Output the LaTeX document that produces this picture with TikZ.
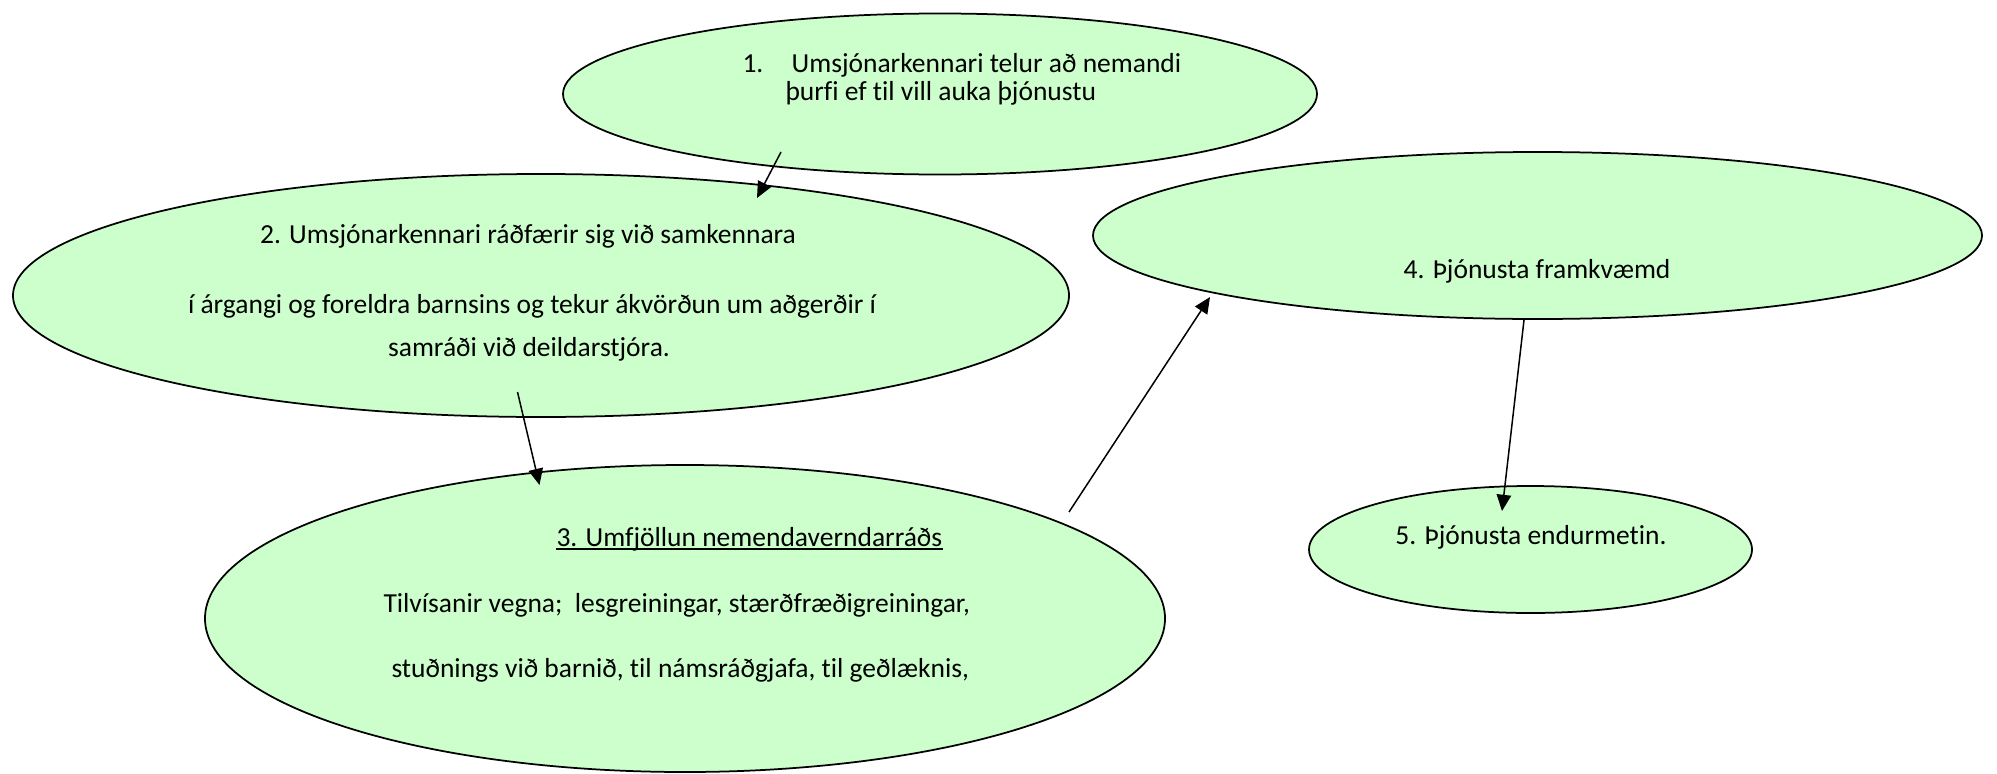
\documentclass[tikz,border=0pt]{standalone}
\usepackage{fontspec}
\setmainfont{Carlito}[Ligatures=NoCommon]
\usepackage{xcolor}
\usetikzlibrary{shapes.geometric, arrows.meta}
\definecolor{paleGreen}{RGB}{204,255,204}
\tikzstyle{bubble} = [ellipse, draw=black, line width=0.7pt, fill=paleGreen, inner sep=0pt]
\tikzstyle{txt} = [inner sep=0pt, font=\fontsize{11}{13}\selectfont]
\tikzstyle{arrow} = [line width=0.6pt, -{Triangle[length=6.5pt, width=5.8pt]}]

\begin{document}
\begin{tikzpicture}[x=0.4pt, y=-0.4pt]
    \useasboundingbox (0,0) rectangle (1997,773);
    % the five steps
    \node (step1) [bubble, minimum width=301.6pt, minimum height=64.4pt] at (940,94) {};
    \node (step2) [bubble, minimum width=422.4pt, minimum height=97.2pt] at (541,295.5) {};
    \node (step3) [bubble, minimum width=384pt, minimum height=122.8pt] at (685,618.5) {};
    \node (step4) [bubble, minimum width=355.6pt, minimum height=66.8pt] at (1537.5,235.5) {};
    \node (step5) [bubble, minimum width=177.2pt, minimum height=50.8pt] at (1530.5,549.5) {};

    % texts
    \node (t1a) [txt, anchor=base west] at (742,72) {1.\hspace{11.3pt}Umsjónarkennari telur að nemandi};
    \node (t1b) [txt, anchor=base west] at (785,100.5) {þurfi ef til vill auka þjónustu};
    \node (t2a) [txt, anchor=base] at (528,243) {2. Umsjónarkennari ráðfærir sig við samkennara};
    \node (t2b) [txt, anchor=base] at (532,313) {í árgangi og foreldra barnsins og tekur ákvörðun um aðgerðir í};
    \node (t2c) [txt, anchor=base] at (529,356) {samráði við deildarstjóra.};
    \node (t3a) [txt, anchor=base west] at (556,546) {3. Umfjöllun nemendaverndarráðs};
    \node (t3b) [txt, anchor=base west] at (383,612) {Tilvísanir vegna;~ lesgreiningar, stærðfræðigreiningar,};
    \node (t3c) [txt, anchor=base west] at (391,677) {stuðnings við barnið, til námsráðgjafa, til geðlæknis,};
    \node (t4) [txt, anchor=base] at (1537,278) {4. Þjónusta framkvæmd};
    \node (t5) [txt, anchor=base] at (1531,544) {5. Þjónusta endurmetin.};
    % underline of step 3 heading
    \draw [line width=0.8pt] ([yshift=-1.1pt]t3a.base west) -- ([yshift=-1.1pt]t3a.base east);

    % arrow ends
    \coordinate (a1s) at (781,152);
    \coordinate (a1e) at (757,198);
    \coordinate (a2s) at (517.5,392);
    \coordinate (a2e) at (539.5,485);
    \coordinate (a3s) at (1069,512);
    \coordinate (a3e) at (1210,297);
    \coordinate (a4s) at (1524,320);
    \coordinate (a4e) at (1502,511);

    \draw [arrow] (a1s) -- (a1e);
    \draw [arrow] (a2s) -- (a2e);
    \draw [arrow] (a3s) -- (a3e);
    \draw [arrow] (a4s) -- (a4e);
\end{tikzpicture}
\end{document}
